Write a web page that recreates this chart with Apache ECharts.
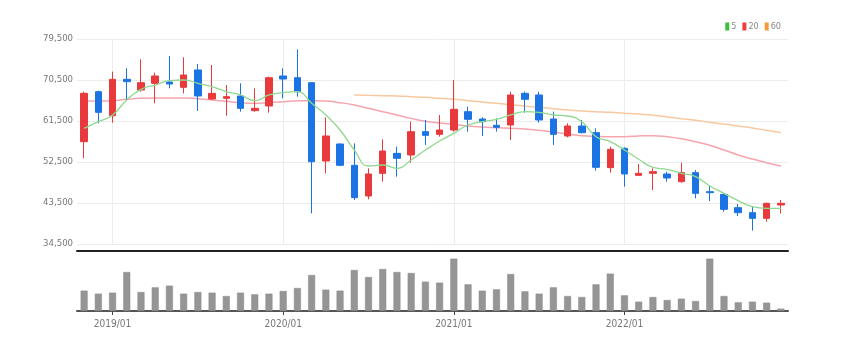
<!DOCTYPE html>
<html>
<head>
<meta charset="utf-8">
<script src="https://cdn.jsdelivr.net/npm/echarts@6/dist/echarts.min.js"></script>
<style>html,body{margin:0;padding:0;background:#fff;}#c{width:841px;height:349px;}</style>
</head>
<body>
<div id="c"></div>
<script>
const categories = ['2018/11','2018/12','2019/01','2019/02','2019/03','2019/04','2019/05','2019/06','2019/07','2019/08','2019/09','2019/10','2019/11','2019/12',
'2020/01','2020/02','2020/03','2020/04','2020/05','2020/06','2020/07','2020/08','2020/09','2020/10','2020/11','2020/12',
'2021/01','2021/02','2021/03','2021/04','2021/05','2021/06','2021/07','2021/08','2021/09','2021/10','2021/11','2021/12',
'2022/01','2022/02','2022/03','2022/04','2022/05','2022/06','2022/07','2022/08','2022/09','2022/10','2022/11','2022/12'];
// [open, close, low, high]
const ohlc = [
[56960,67570,53310,67940],[67940,63400,60990,68160],[62670,70650,61130,72330],[70650,70130,66110,73060],
[68300,69910,67940,75040],[69770,71380,65380,72110],[70060,69620,68670,75770],[68890,71600,67570,75480],
[72700,66990,63700,74010],[66330,67570,66110,73790],[66480,66840,62670,69400],[66990,64280,63550,69770],
[63770,64280,63550,68670],[64790,71010,63330,71230],[71380,70720,66480,73060],[71010,67940,66840,77230],
[69910,52570,41230,70000],[52720,58210,50010,62310],[56450,51770,51600,56600],[51770,44670,44160,56600],
[45040,49870,44310,51110],[50010,54910,48180,57480],[54400,53310,49280,55870],[54040,59160,52350,61350],
[59160,58350,56230,61720],[58570,59520,58060,62820],[59520,64060,59160,70500],[63550,61870,59160,64650],
[61940,61350,58210,62310],[60550,60110,59160,62090],[60620,67210,57330,67940],[67570,66260,63330,67940],
[67210,61720,61130,67940],[61940,58570,56230,63550],[58210,60400,57910,60990],[60400,58940,58790,61720],
[58940,51330,50600,59890],[51260,55280,50160,55870],[55500,49870,47090,55720],[49570,50010,49500,52060],
[50010,50380,46350,51110],[49870,48990,48180,50380],[48180,50160,47960,52350],[50160,45620,44520,50740],
[45990,45770,43940,47310],[45400,42110,41600,45620],[42480,41380,40650,43280],[41380,40130,37430,42700],
[40130,43430,39400,43570],[43060,43430,41230,44160]];
const ma5 = [59890,61350,62820,66110,68450,69400,70350,70500,69770,69040,67940,67210,65960,67210,67720,67940,
65380,62820,59520,55130,51620,51840,51110,52940,55130,57110,58790,60620,61350,61870,62820,63550,63400,62820,
62600,61350,58060,56960,55130,53090,51330,50890,50010,49280,47230,45620,44010,42700,42330,42330];
const ma20 = [65890,65890,65960,66260,66480,66550,66550,66550,66400,66110,65820,65520,65380,65520,65740,65960,
65960,65890,65520,65010,64280,63550,62820,62080,61430,61060,60770,60400,60180,60040,59890,59740,59450,59080,
58650,58280,58130,58060,58060,58210,58280,58060,57620,56960,56160,55130,54040,53160,52350,51620];
const ma60 = [null,null,null,null,null,null,null,null,null,null,null,null,null,null,null,null,null,null,null,
67210,67130,67060,66990,66840,66700,66480,66260,65960,65670,65380,65090,64790,64500,64210,63910,63700,63550,
63400,63180,63040,62740,62380,62010,61650,61210,60840,60400,59960,59450,58940];
const volume = [61000,52000,55000,117000,57000,71000,76000,52000,57000,55000,45000,55000,50000,52000,60000,69000,
108000,64000,61000,123000,102000,126000,117000,114000,88000,85000,157000,80000,61000,65000,111000,59000,52000,
71000,45000,42000,80000,112000,47000,28000,42000,33000,37000,30000,157000,45000,26000,28000,25000,7000];
const yTicks = {min:34500, max:79500, step:9000};

const UP = '#e8393c', DOWN = '#1c74e4';
const isJan = (i) => categories[i].slice(5) === '01';
const narrow = "'Liberation Sans Narrow','DejaVu Sans Condensed','Arial Narrow',sans-serif";

const chart = echarts.init(document.getElementById('c'), null, {renderer:'canvas'});
chart.setOption({
  animation:false,
  backgroundColor:'#fff',
  legend:{
    right:55, top:17, itemWidth:4, itemHeight:8, itemGap:6, icon:'rect',
    textStyle:{fontSize:9, color:'#888', fontFamily:narrow, padding:[0,0,0,-3]},
    data:[{name:'5', itemStyle:{color:'#3cc03c'}},{name:'20', itemStyle:{color:'#f03c3c'}},{name:'60', itemStyle:{color:'#f59a3c'}}]
  },
  grid:[
    {left:77, right:53, top:39, height:205},
    {left:77, right:53, top:255, height:56}
  ],
  xAxis:[
    {type:'category', gridIndex:0, data:categories, boundaryGap:true, offset:7,
     axisLine:{show:true, lineStyle:{color:'#222', width:2}},
     axisTick:{show:false}, axisLabel:{show:false},
     splitLine:{show:true, alignWithLabel:true, interval:(i)=>isJan(i), lineStyle:{color:'#ececec', width:1}}},
    {type:'category', gridIndex:1, data:categories, boundaryGap:true,
     axisLine:{show:true, lineStyle:{color:'#555', width:2}},
     axisTick:{show:true, alignWithLabel:true, interval:(i)=>isJan(i), length:4, lineStyle:{color:'#444'}},
     axisLabel:{show:true, interval:(i)=>isJan(i), color:'#777', fontSize:10, fontFamily:narrow, margin:8},
     splitLine:{show:false}}
  ],
  yAxis:[
    {type:'value', gridIndex:0, min:yTicks.min, max:yTicks.max, interval:yTicks.step, scale:true,
     axisLine:{show:false}, axisTick:{show:false},
     axisLabel:{color:'#777', fontSize:9.5, fontFamily:narrow, margin:4, formatter:(v)=>v.toLocaleString('en-US')},
     splitLine:{show:true, lineStyle:{color:'#ececec', width:1}}},
    {type:'value', gridIndex:1, min:0, max:168000, show:false, splitLine:{show:false}}
  ],
  series:[
    {name:'candle', type:'candlestick', xAxisIndex:0, yAxisIndex:0, data:ohlc, barWidth:7, z:3,
     itemStyle:{color:UP, color0:DOWN, borderColor:UP, borderColor0:DOWN, borderWidth:1}},
    {name:'5', type:'line', xAxisIndex:0, yAxisIndex:0, data:ma5, smooth:true, symbol:'none', z:4,
     lineStyle:{color:'#8fd98f', width:1.3}, itemStyle:{color:'#3cc03c'}},
    {name:'20', type:'line', xAxisIndex:0, yAxisIndex:0, data:ma20, smooth:true, symbol:'none', z:2,
     lineStyle:{color:'#f6a5ae', width:1.5}, itemStyle:{color:'#f03c3c'}},
    {name:'60', type:'line', xAxisIndex:0, yAxisIndex:0, data:ma60, smooth:true, symbol:'none', z:2,
     lineStyle:{color:'#f8c9a0', width:1.5}, itemStyle:{color:'#f59a3c'}},
    {name:'vol', type:'bar', xAxisIndex:1, yAxisIndex:1, data:volume, barWidth:7,
     itemStyle:{color:'#959595', borderColor:'#8a8a8a', borderWidth:0.5}}
  ]
});
</script>
</body>
</html>
